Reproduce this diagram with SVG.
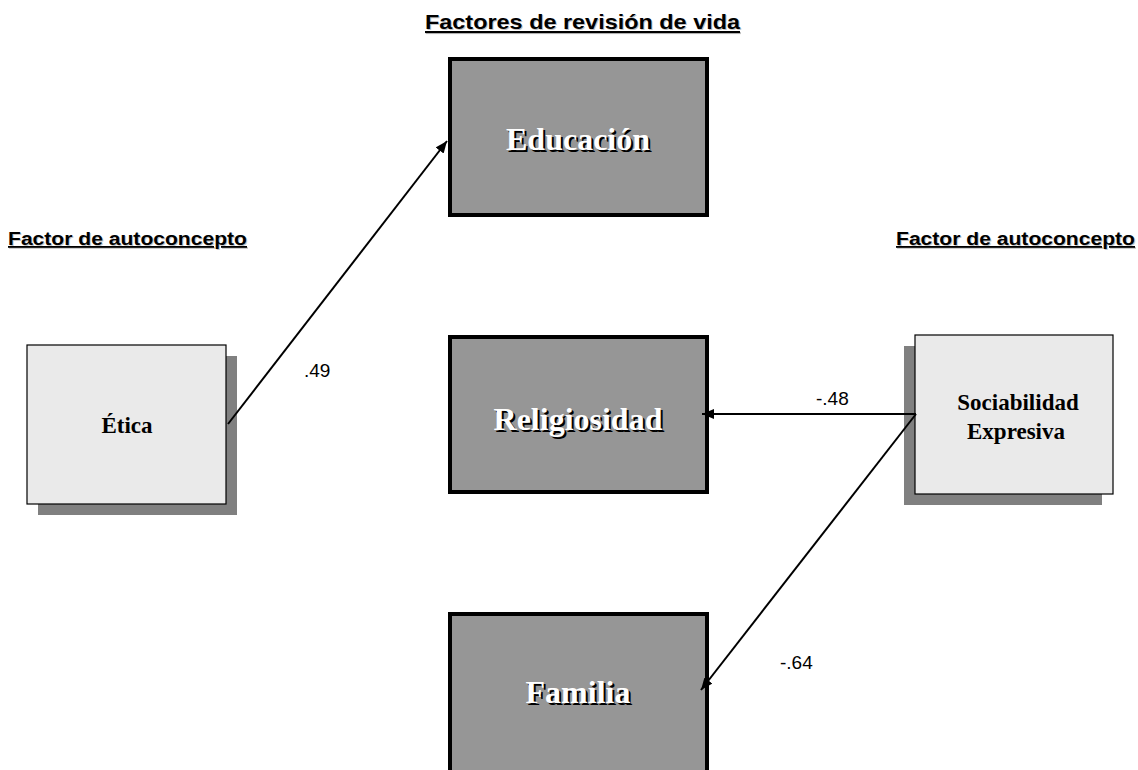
<svg xmlns="http://www.w3.org/2000/svg" width="1138" height="770" viewBox="0 0 1138 770">
<style>
.title{font-family:"Liberation Sans",Arial,sans-serif;font-weight:bold;fill:#000;text-decoration:underline}
.tshadow{font-family:"Liberation Sans",Arial,sans-serif;font-weight:bold;fill:#c4c4c4;text-decoration:underline}
.dark{fill:#969696;stroke:#000;stroke-width:4}
.light{fill:#eaeaea;stroke:#000;stroke-width:1.2}
.shadow{fill:#808080}
.wtxt{font-family:"Liberation Serif","Times New Roman",serif;font-weight:bold;font-size:32px;fill:#fff;text-anchor:middle}
.wsh{font-family:"Liberation Serif","Times New Roman",serif;font-weight:bold;font-size:32px;fill:#000;text-anchor:middle}
.btxt{font-family:"Liberation Serif","Times New Roman",serif;font-weight:bold;font-size:23px;fill:#000;text-anchor:middle}
.lbl{font-family:"Liberation Sans",Arial,sans-serif;font-size:19px;fill:#000}
.conn{stroke:#000;stroke-width:2;fill:none}
</style>
<defs>
<marker id="arrow" viewBox="0 0 12 10" refX="12" refY="5" markerWidth="12" markerHeight="10" markerUnits="userSpaceOnUse" orient="auto">
<path d="M0,0 L12,5 L0,10 Z" fill="#000"/>
</marker>
</defs>
<g id="titles">
<text class="tshadow" x="426" y="30" font-size="21" textLength="315" lengthAdjust="spacingAndGlyphs">Factores de revisión de vida</text>
<text class="title" x="425" y="29" font-size="21" textLength="315" lengthAdjust="spacingAndGlyphs">Factores de revisión de vida</text>
<text class="tshadow" x="9" y="246" font-size="18" textLength="239" lengthAdjust="spacingAndGlyphs">Factor de autoconcepto</text>
<text class="title" x="8" y="245" font-size="18" textLength="239" lengthAdjust="spacingAndGlyphs">Factor de autoconcepto</text>
<text class="tshadow" x="897" y="246" font-size="18" textLength="239" lengthAdjust="spacingAndGlyphs">Factor de autoconcepto</text>
<text class="title" x="896" y="245" font-size="18" textLength="239" lengthAdjust="spacingAndGlyphs">Factor de autoconcepto</text>
</g>
<g id="educacion">
<rect class="dark" x="450" y="59" width="257" height="156"/>
<text class="wsh" x="580" y="152">Educación</text>
<text class="wtxt" x="578" y="150">Educación</text>
</g>
<g id="religiosidad">
<rect class="dark" x="450" y="337" width="257" height="155"/>
<text class="wsh" x="580" y="432">Religiosidad</text>
<text class="wtxt" x="578" y="430">Religiosidad</text>
</g>
<g id="familia">
<rect class="dark" x="450" y="614" width="257" height="160"/>
<text class="wsh" x="580" y="705">Familia</text>
<text class="wtxt" x="578" y="703">Familia</text>
</g>
<g id="etica">
<rect class="shadow" x="38" y="356" width="199" height="159"/>
<rect class="light" x="27" y="345" width="199" height="159"/>
<text class="btxt" x="127" y="433" font-size="25">Ética</text>
</g>
<g id="sociabilidad">
<rect class="shadow" x="904" y="346" width="198" height="159"/>
<rect class="light" x="915" y="335" width="198" height="159"/>
<text class="btxt" x="1018" y="410">Sociabilidad</text>
<text class="btxt" x="1016" y="439">Expresiva</text>
</g>
<g id="connectors">
<line class="conn" x1="228" y1="424" x2="447" y2="141" marker-end="url(#arrow)"/>
<line class="conn" x1="916" y1="414" x2="702" y2="414" marker-end="url(#arrow)"/>
<line class="conn" x1="916" y1="414" x2="701" y2="690" marker-end="url(#arrow)"/>
<text class="lbl" x="304" y="377">.49</text>
<text class="lbl" x="816" y="405">-.48</text>
<text class="lbl" x="780" y="669">-.64</text>
</g>
</svg>
